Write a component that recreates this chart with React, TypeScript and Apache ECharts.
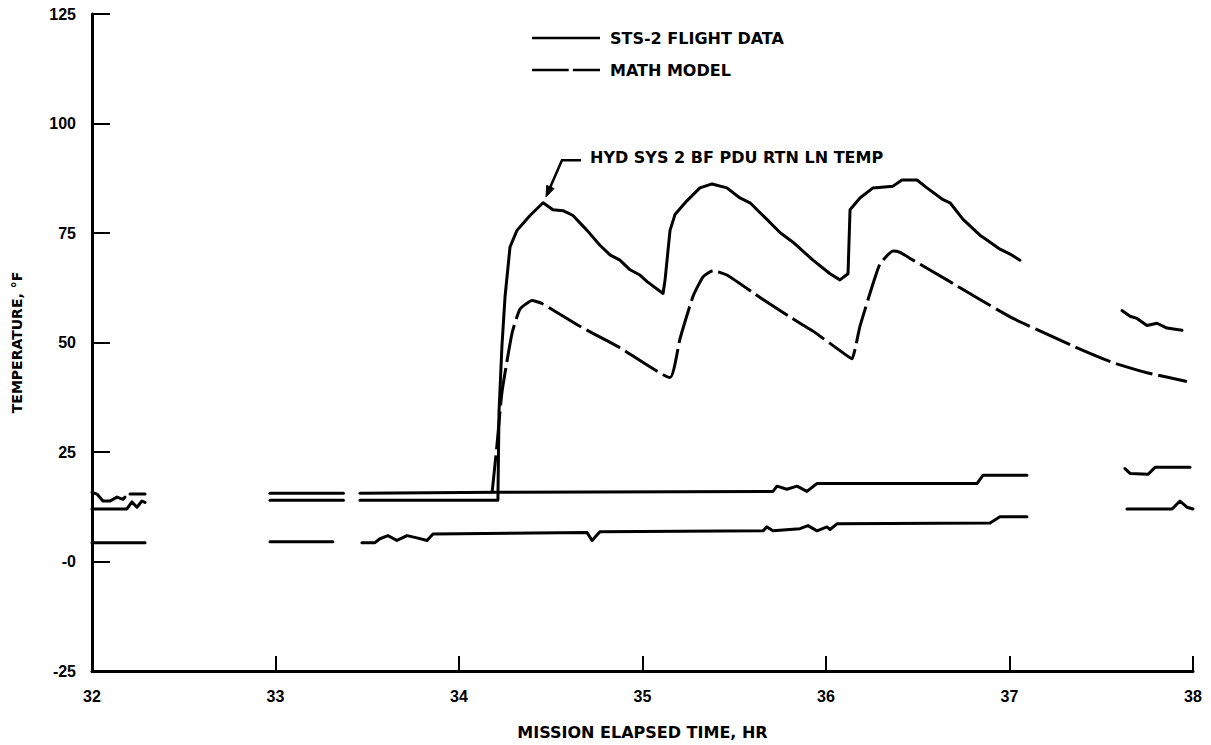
import React, { useEffect, useRef } from "react";
import * as echarts from "echarts";

// ---- Data ----
const X_TICKS = [32, 33, 34, 35, 36, 37, 38];
const Y_TICKS = [-25, 0, 25, 50, 75, 100, 125];

const FLIGHT_NAME = "STS-2 FLIGHT DATA";
const MODEL_NAME = "MATH MODEL";

// HYD SYS 2 BF PDU RTN LN TEMP (flight data), segments
const hydFlightSegments: number[][][] = [
  [[32.0, 12.0], [32.19, 12.0], [32.218, 13.6], [32.245, 12.4], [32.272, 13.8], [32.289, 13.5]],
  [[32.97, 14.0], [33.37, 14.0]],
  [
    [33.46, 14.0], [34.212, 14.0], [34.218, 34.1], [34.234, 49.2], [34.251, 60.5], [34.278, 71.8],
    [34.316, 75.6], [34.387, 79.0], [34.458, 81.9], [34.512, 80.3], [34.567, 80.1], [34.621, 79.0],
    [34.698, 75.6], [34.768, 72.2], [34.823, 70.0], [34.877, 68.8], [34.932, 66.6], [34.986, 65.4],
    [35.025, 63.9], [35.112, 61.2], [35.123, 64.3], [35.15, 75.6], [35.177, 79.2], [35.243, 82.4],
    [35.313, 85.3], [35.379, 86.2], [35.46, 85.3], [35.531, 83.0], [35.586, 81.9], [35.678, 78.1],
    [35.749, 75.1], [35.82, 72.9], [35.929, 68.8], [36.022, 65.7], [36.076, 64.3], [36.12, 65.7],
    [36.131, 80.3], [36.185, 83.0], [36.256, 85.3], [36.365, 85.7], [36.414, 87.1], [36.496, 87.1],
    [36.55, 85.3], [36.638, 82.6], [36.676, 81.9], [36.747, 78.1], [36.839, 74.5], [36.877, 73.4],
    [36.948, 71.3], [37.003, 70.2], [37.057, 68.8],
  ],
  [[37.613, 57.3], [37.657, 56.0], [37.695, 55.5], [37.749, 53.9], [37.804, 54.4], [37.858, 53.3], [37.94, 52.8]],
];

// Upper low-temperature trace (flight data), segments
const upperLowSegments: number[][][] = [
  [[32.0, 15.8], [32.027, 15.4], [32.06, 13.8], [32.098, 13.8], [32.136, 14.7], [32.169, 14.2], [32.18, 14.7]],
  [[32.207, 15.4], [32.289, 15.4]],
  [[32.97, 15.6], [33.37, 15.6]],
  [
    [33.46, 15.6], [34.212, 15.8], [35.711, 16.0], [35.733, 17.2], [35.787, 16.5], [35.842, 17.2],
    [35.896, 16.0], [35.951, 17.8], [36.823, 17.8], [36.856, 19.7], [37.095, 19.7],
  ],
  [[37.629, 21.2], [37.657, 20.1], [37.755, 19.9], [37.793, 21.5], [37.984, 21.5]],
];

// Lower low-temperature trace (flight data), segments
const lowerLowSegments: number[][][] = [
  [[32.0, 4.3], [32.289, 4.3]],
  [[32.97, 4.5], [33.313, 4.5]],
  [
    [33.471, 4.3], [33.542, 4.3], [33.569, 5.2], [33.613, 5.9], [33.662, 4.8], [33.717, 5.9],
    [33.771, 5.4], [33.826, 4.8], [33.858, 6.3], [34.698, 6.6], [34.725, 4.8], [34.768, 6.8],
    [35.657, 7.0], [35.678, 7.9], [35.711, 7.0], [35.858, 7.5], [35.902, 8.2], [35.951, 7.0],
    [36.005, 7.9], [36.022, 7.3], [36.06, 8.6], [36.894, 8.8], [36.948, 10.2], [37.095, 10.2],
  ],
  [[37.64, 12.0], [37.886, 12.0], [37.929, 13.8], [37.967, 12.4], [38.0, 12.0]],
];

// Math model
const mathModel: number[][] = [
  [34.18, 15.6], [34.207, 26.6], [34.234, 38.6], [34.289, 52.1], [34.332, 57.6], [34.398, 59.6],
  [34.452, 58.9], [34.659, 53.7], [34.877, 48.8], [35.15, 42.0], [35.204, 50.8], [35.275, 60.5],
  [35.33, 65.0], [35.384, 66.4], [35.46, 65.4], [35.657, 59.8], [35.858, 54.4], [35.929, 52.6],
  [36.114, 47.0], [36.142, 46.3], [36.185, 53.7], [36.256, 63.4], [36.294, 67.9], [36.365, 70.9],
  [36.403, 70.6], [36.474, 68.8], [36.659, 64.3], [36.839, 59.8], [37.019, 55.5], [37.204, 51.9],
  [37.384, 48.5], [37.564, 45.4], [37.749, 43.1], [37.967, 41.1],
];

const ANNOTATION_TEXT = "HYD SYS 2 BF PDU RTN LN TEMP";
const ANN_TIP = [34.474, 83.2];
const ANN_ELBOW = [34.561, 91.6];
const ANN_END = [34.665, 91.6];
const ANN_TEXT_AT = [34.714, 92.3];

const TEXT_FONT = "'DejaVu Sans', sans-serif";
const NUM_FONT = "'Liberation Sans', Arial, sans-serif";

const SOLID_ICON = "path://M0 0H100V4H0Z";
const DASH_ICON = "path://M0 0H54V4H0ZM60 0H100V4H60Z";

export default function App() {
  const ref = useRef<HTMLDivElement>(null);

  useEffect(() => {
    if (!ref.current) return;
    const chart = echarts.init(ref.current, undefined, { renderer: "svg" });

    const solidStyle = { color: "#000", width: 3, type: "solid" as const, cap: "round" as const, join: "round" as const };
    const mkSolid = (segs: number[][][]) =>
      segs.map((seg) => ({
        type: "line",
        name: FLIGHT_NAME,
        data: seg,
        symbol: "none",
        showSymbol: false,
        lineStyle: solidStyle,
        itemStyle: { color: "#000" },
        z: 3,
      }));

    const series: any[] = [
      ...mkSolid(hydFlightSegments),
      ...mkSolid(upperLowSegments),
      ...mkSolid(lowerLowSegments),
      {
        type: "line",
        name: MODEL_NAME,
        data: mathModel,
        symbol: "none",
        showSymbol: false,
        smooth: 0.15,
        lineStyle: { color: "#000", width: 3, type: [38, 6], cap: "butt", join: "round" },
        itemStyle: { color: "#000" },
        z: 3,
      },
    ];

    const option: any = {
      animation: false,
      backgroundColor: "#fff",
      grid: { left: 92, right: 18, top: 14, bottom: 66, containLabel: false },
      legend: {
        data: [
          { name: FLIGHT_NAME, icon: SOLID_ICON },
          { name: MODEL_NAME, icon: DASH_ICON },
        ],
        orient: "vertical",
        left: 527,
        top: 25,
        itemWidth: 68,
        itemHeight: 3,
        itemGap: 16,
        selectedMode: false,
        itemStyle: { color: "#000", borderWidth: 0 },
        textStyle: {
          fontFamily: TEXT_FONT,
          fontWeight: "bold",
          fontSize: 16,
          color: "#000",
          padding: [0, 0, 0, 5],
        },
      },
      xAxis: {
        type: "value",
        min: X_TICKS[0],
        max: X_TICKS[X_TICKS.length - 1],
        interval: 1,
        name: "MISSION ELAPSED TIME, HR",
        nameLocation: "middle",
        nameGap: 53,
        nameTextStyle: { fontFamily: TEXT_FONT, fontWeight: "bold", fontSize: 16, color: "#000" },
        axisLine: { show: true, onZero: false, lineStyle: { color: "#000", width: 3 } },
        axisTick: { show: true, inside: true, length: 15, lineStyle: { color: "#000", width: 2 } },
        axisLabel: {
          margin: 17,
          fontFamily: NUM_FONT,
          fontWeight: "bold",
          fontSize: 16,
          color: "#000",
          formatter: (v: number) => String(v),
        },
        splitLine: { show: false },
      },
      yAxis: {
        type: "value",
        min: Y_TICKS[0],
        max: Y_TICKS[Y_TICKS.length - 1],
        interval: 25,
        name: "TEMPERATURE, °F",
        nameLocation: "middle",
        nameGap: 68,
        nameRotate: 90,
        nameTextStyle: { fontFamily: TEXT_FONT, fontWeight: "bold", fontSize: 14, color: "#000" },
        axisLine: { show: true, onZero: false, lineStyle: { color: "#000", width: 3 } },
        axisTick: { show: true, inside: true, length: 18, lineStyle: { color: "#000", width: 2 } },
        axisLabel: {
          margin: 16,
          fontFamily: NUM_FONT,
          fontWeight: "bold",
          fontSize: 16,
          color: "#000",
          formatter: (v: number) => (v === 0 ? "-0" : String(v)),
        },
        splitLine: { show: false },
      },
      series,
    };

    chart.setOption(option);

    const px = (p: number[]) => chart.convertToPixel({ xAxisIndex: 0, yAxisIndex: 0 }, p) as number[];
    const tip = px(ANN_TIP);
    const elbow = px(ANN_ELBOW);
    const end = px(ANN_END);
    const textAt = px(ANN_TEXT_AT);
    const dx = tip[0] - elbow[0];
    const dy = tip[1] - elbow[1];
    const len = Math.sqrt(dx * dx + dy * dy);
    const ux = dx / len;
    const uy = dy / len;
    const headLen = 11;
    const headHalf = 4;
    const baseX = tip[0] - ux * headLen;
    const baseY = tip[1] - uy * headLen;

    chart.setOption({
      graphic: [
        {
          type: "polyline",
          shape: { points: [end, elbow, [baseX + ux * 2, baseY + uy * 2]] },
          style: { stroke: "#000", lineWidth: 2.5, fill: "none" },
          z: 10,
        },
        {
          type: "polygon",
          shape: {
            points: [
              tip,
              [baseX - uy * headHalf, baseY + ux * headHalf],
              [baseX + uy * headHalf, baseY - ux * headHalf],
            ],
          },
          style: { fill: "#000", stroke: "#000", lineWidth: 1 },
          z: 10,
        },
        {
          type: "text",
          x: textAt[0],
          y: textAt[1],
          style: {
            text: ANNOTATION_TEXT,
            fontFamily: TEXT_FONT,
            fontWeight: "bold",
            fontSize: 16,
            fill: "#000",
            verticalAlign: "middle",
            align: "left",
          },
          z: 10,
        },
      ],
    });

    return () => chart.dispose();
  }, []);

  return (
    <div
      ref={ref}
      style={{ position: "fixed", left: 0, top: 0, width: 1211, height: 745, background: "#fff" }}
    />
  );
}
